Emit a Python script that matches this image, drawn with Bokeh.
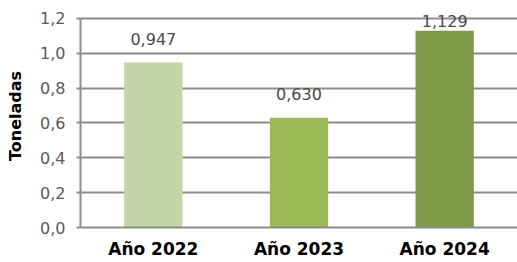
from bokeh.plotting import figure
from bokeh.models import ColumnDataSource, FactorRange, FixedTicker
from bokeh.embed import file_html
from bokeh.resources import INLINE
from bokeh.core.properties import value

categories = ["Año 2022", "Año 2023", "Año 2024"]
toneladas = [0.947, 0.630, 1.129]
labels = ["0,947", "0,630", "1,129"]
colors = ["#c4d6a7", "#9bbb59", "#7d9a47"]
y_ticks = [0.0, 0.2, 0.4, 0.6, 0.8, 1.0, 1.2]
y_tick_labels = ["0,0", "0,2", "0,4", "0,6", "0,8", "1,0", "1,2"]

# Excel keeps data labels inside the plot area: clamp the top one
label_y = [min(v, 1.05) for v in toneladas]

source = ColumnDataSource(dict(cat=categories, val=toneladas, color=colors,
                               lab=labels, ly=label_y))

grid_color = "#8c8c8c"
num_font = "DejaVu Sans"

p = figure(x_range=FactorRange(*categories, start=-0.005, end=2.978),
           y_range=(0, 1.28), width=517, height=262,
           output_backend="svg", toolbar_location=None,
           min_border_left=80, min_border_right=0, min_border_top=4,
           min_border_bottom=35)
p.outline_line_color = None
p.background_fill_color = "white"

p.vbar(x="cat", top="val", width=0.4, fill_color="color", line_color=None,
       source=source)

p.text(x="cat", y="ly", text="lab", source=source, text_align="center",
       text_baseline="alphabetic", y_offset=-24, text_font=value(num_font),
       text_font_size="16px", text_color="#4a4a4a")

p.xgrid.grid_line_color = None
p.ygrid.grid_line_color = grid_color
p.ygrid.grid_line_width = 2
p.ygrid.ticker = FixedTicker(ticks=y_ticks)

p.yaxis.ticker = FixedTicker(ticks=y_ticks)
p.yaxis.bounds = (0, 1.2)
p.yaxis.major_label_overrides = {t: l for t, l in zip(y_ticks, y_tick_labels)}
p.yaxis.axis_label = "Toneladas"
p.yaxis.axis_label_text_font = "DejaVu Sans"
p.yaxis.axis_label_text_font_style = "bold"
p.yaxis.axis_label_text_font_size = "16px"
p.yaxis.axis_label_text_color = "#000000"
p.yaxis.axis_label_standoff = 12
p.yaxis.major_label_text_font = num_font
p.yaxis.major_label_text_font_size = "16px"
p.yaxis.major_label_text_color = "#595959"
p.yaxis.major_label_standoff = 11
p.yaxis.axis_line_color = grid_color
p.yaxis.axis_line_width = 2
p.yaxis.major_tick_line_color = grid_color
p.yaxis.major_tick_line_width = 2
p.yaxis.major_tick_out = 4
p.yaxis.major_tick_in = 0
p.yaxis.minor_tick_line_color = None

p.xaxis.major_label_text_font = "DejaVu Sans"
p.xaxis.major_label_text_font_style = "bold"
p.xaxis.major_label_text_font_size = "17px"
p.xaxis.major_label_text_color = "#000000"
p.xaxis.major_label_standoff = 11
p.xaxis.axis_line_color = grid_color
p.xaxis.axis_line_width = 2
p.xaxis.major_tick_line_color = None
p.xaxis.major_tick_out = 0
p.xaxis.major_tick_in = 0
p.xaxis.minor_tick_line_color = None

open("out.html", "w").write(file_html(p, INLINE))
